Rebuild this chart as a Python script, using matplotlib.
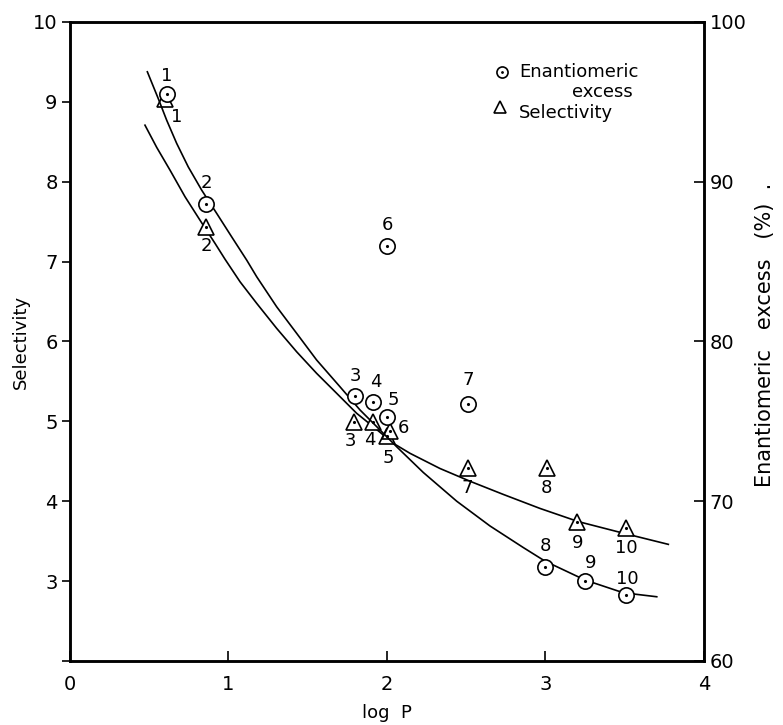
import matplotlib
matplotlib.use("Agg")
import matplotlib.pyplot as plt

# Measured points (numbered compounds)
labels = ["1", "2", "3", "4", "5", "6", "7", "8", "9", "10"]
logp_ee = [0.61, 0.86, 1.80, 1.91, 2.00, 2.00, 2.51, 3.00, 3.25, 3.51]
ee = [95.5, 88.6, 76.6, 76.2, 75.3, 86.0, 76.1, 65.9, 65.0, 64.1]
logp_sel = [0.60, 0.86, 1.79, 1.91, 2.00, 2.02, 2.51, 3.01, 3.20, 3.51]
sel = [9.03, 7.43, 4.99, 4.99, 4.82, 4.88, 4.42, 4.42, 3.74, 3.66]

# Trend curves (ee on the right scale, selectivity on the left scale)
ee_curve_x = [0.488, 0.557, 0.610, 0.673, 0.746, 0.831, 0.926, 1.020, 1.115, 1.178,
              1.304, 1.430, 1.556, 1.703, 1.830, 1.956, 2.061, 2.229, 2.440, 2.650,
              2.860, 2.997, 3.249, 3.491, 3.702]
ee_curve_y = [96.88, 95.20, 93.85, 92.40, 90.93, 89.47, 88.01, 86.55, 85.09, 84.05,
              82.17, 80.51, 78.84, 77.17, 75.71, 74.46, 73.41, 71.80, 70.00, 68.45,
              67.10, 66.25, 65.07, 64.27, 64.02]
sel_curve_x = [0.473, 0.547, 0.631, 0.726, 0.820, 0.915, 0.978, 1.073, 1.178, 1.304,
               1.430, 1.556, 1.683, 1.809, 1.914, 2.040, 2.145, 2.334, 2.524, 2.734,
               2.965, 3.207, 3.491, 3.775]
sel_curve_y = [8.708, 8.430, 8.145, 7.811, 7.519, 7.228, 7.030, 6.747, 6.477, 6.164,
               5.871, 5.601, 5.350, 5.100, 4.932, 4.725, 4.600, 4.410, 4.250, 4.085,
               3.910, 3.745, 3.600, 3.460]

# label offsets (pixels) relative to each marker
ee_off = [(0, 18), (0, 21), (0, 20), (3, 20), (6, 17), (0, 21), (0, 24), (0, 21), (6, 18), (1, 16)]
sel_off = [(12, -18), (0, -19), (-3, -19), (-3, -18), (1, -22), (13, 3), (-1, -20), (-1, -20), (0, -21), (0, -20)]

plt.rcParams["font.family"] = "DejaVu Sans"
fig = plt.figure(figsize=(7.83, 7.25), dpi=100)
ax = fig.add_axes([0.0894, 0.0883, 0.8097, 0.8814])
ax2 = ax.twinx()

ax.set_xlim(0, 4)
ax.set_ylim(2, 10)
ax2.set_ylim(60, 100)

ax2.plot(ee_curve_x, ee_curve_y, color="black", lw=1.2)
ax.plot(sel_curve_x, sel_curve_y, color="black", lw=1.2)

mk = dict(mfc="white", mec="black", mew=1.2, ls="none")
ax.plot(logp_sel, sel, marker="^", ms=11, zorder=3, **mk)
ax.plot(logp_sel, sel, marker=".", ms=2.5, color="black", ls="none", zorder=4)
ax2.plot(logp_ee, ee, marker="o", ms=11, zorder=3, **mk)
ax2.plot(logp_ee, ee, marker=".", ms=2.5, color="black", ls="none", zorder=4)

for lab, x, y, (dx, dy) in zip(labels, logp_ee, ee, ee_off):
    ax2.annotate(lab, (x, y), xytext=(dx * 0.72, dy * 0.72), textcoords="offset points",
                 ha="center", va="center", fontsize=13)
for lab, x, y, (dx, dy) in zip(labels, logp_sel, sel, sel_off):
    ax.annotate(lab, (x, y), xytext=(dx * 0.72, dy * 0.72), textcoords="offset points",
                ha="center", va="center", fontsize=13)

# axes styling
for a in (ax, ax2):
    for s in a.spines.values():
        s.set_linewidth(1.8)
ax.set_xticks([0, 1, 2, 3, 4])
ax.set_yticks([2, 3, 4, 5, 6, 7, 8, 9, 10])
ax.set_yticklabels(["", "3", "4", "5", "6", "7", "8", "9", "10"])
ax.tick_params(axis="y", direction="out", length=6, width=1.2, labelsize=14, pad=3)
ax.tick_params(axis="x", direction="in", length=7, width=1.2, labelsize=14, pad=10)
ax2.set_yticks([60, 70, 80, 90, 100])
ax2.tick_params(axis="y", direction="in", length=7, width=1.2, labelsize=14, pad=4)

ax.set_xlabel("log  P", fontsize=13, labelpad=7)
ax.set_ylabel("Selectivity", fontsize=13, labelpad=2)
ax2.set_ylabel("Enantiomeric   excess   (%)  .", fontsize=15)
ax2.yaxis.set_label_coords(1.08, 0.51)

# key
ax2.plot(0.681, 0.921, transform=ax2.transAxes, marker="o", ms=8, **mk)
ax2.plot(0.681, 0.921, transform=ax2.transAxes, marker=".", ms=2, color="black")
ax2.text(0.708, 0.921, "Enantiomeric", transform=ax2.transAxes, fontsize=13, va="center")
ax2.text(0.839, 0.890, "excess", transform=ax2.transAxes, fontsize=13, va="center", ha="center")
ax2.plot(0.678, 0.867, transform=ax2.transAxes, marker="^", ms=8, **mk)
ax2.text(0.708, 0.858, "Selectivity", transform=ax2.transAxes, fontsize=13, va="center")

fig.savefig("out.png", dpi=100)
